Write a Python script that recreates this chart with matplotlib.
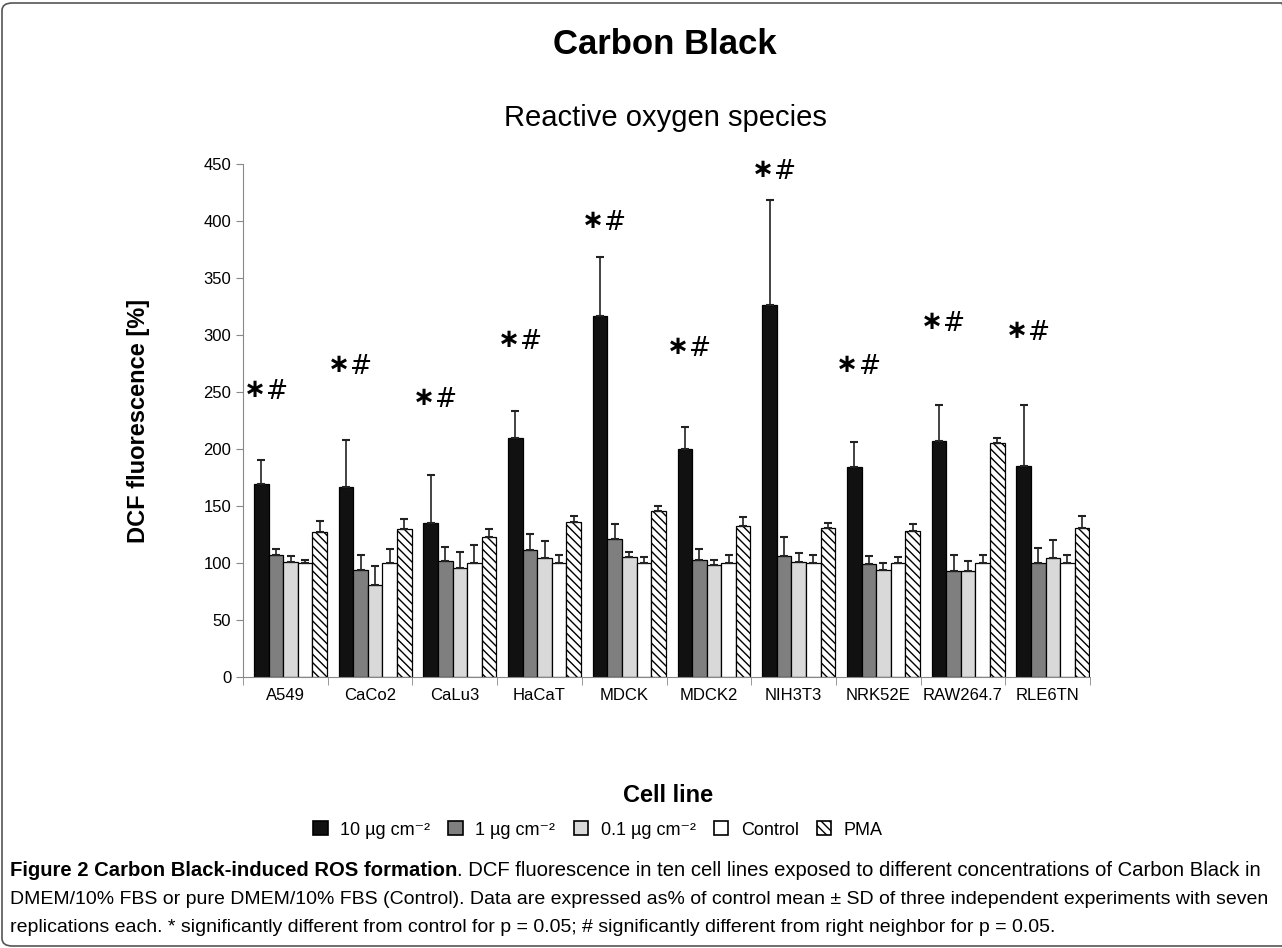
import numpy as np
import matplotlib
matplotlib.use('Agg')
import matplotlib.pyplot as plt
from matplotlib.patches import Patch, FancyBboxPatch

plt.rcParams['font.family'] = ['Liberation Sans', 'DejaVu Sans']
plt.rcParams['hatch.linewidth'] = 1.0

cell_lines = ['A549', 'CaCo2', 'CaLu3', 'HaCaT', 'MDCK', 'MDCK2', 'NIH3T3', 'NRK52E', 'RAW264.7', 'RLE6TN']
series = ['10 µg cm⁻²', '1 µg cm⁻²', '0.1 µg cm⁻²', 'Control', 'PMA']

# means
c10 = [169, 167, 135, 210, 317, 200, 326, 184, 207, 185]
c1 = [107, 94, 102, 111, 121, 103, 106, 99, 93, 100]
c01 = [101, 81, 96, 104, 105, 98, 101, 94, 93, 104]
ctrl = [100, 100, 100, 100, 100, 100, 100, 100, 100, 100]
pma = [127, 130, 123, 136, 146, 132, 131, 128, 205, 131]

# upper end of the error bars
c10_top = [190, 208, 177, 233, 368, 219, 418, 206, 239, 239]
c1_top = [112, 107, 114, 125, 134, 112, 123, 106, 107, 113]
c01_top = [106, 97, 110, 119, 110, 103, 109, 100, 102, 120]
ctrl_top = [103, 112, 116, 107, 105, 107, 107, 105, 107, 107]
pma_top = [137, 139, 130, 141, 150, 140, 135, 134, 210, 141]

# height of the "*#" marks
sig_y = [250, 272, 243, 294, 398, 288, 443, 272, 310, 302]

means = [c10, c1, c01, ctrl, pma]
tops = [c10_top, c1_top, c01_top, ctrl_top, pma_top]
colors = ['#111111', '#7f7f7f', '#d9d9d9', 'white', 'white']
hatches = [None, None, None, None, '\\\\\\\\']

fig = plt.figure(figsize=(12.82, 9.48), dpi=100)
ax = fig.add_axes([0.1896, 0.2859, 0.6607, 0.5411])

x = np.arange(len(cell_lines))
w = 0.172
for i in range(5):
    pos = x + (i - 2) * w + 0.06
    m = np.array(means[i])
    err = np.array(tops[i]) - m
    ax.bar(pos, m, w, color=colors[i], edgecolor='black', linewidth=0.9,
           hatch=hatches[i], zorder=2)
    ax.errorbar(pos, m, yerr=[np.zeros_like(err), err], fmt='none',
                ecolor='#222222', elinewidth=1.2, capsize=3, capthick=1.5, zorder=3)

for i in range(len(cell_lines)):
    xc = x[i] - 2 * w + 0.1
    ax.annotate('\u2217', (xc + 0.01, sig_y[i]), xytext=(0, 1.5), textcoords='offset points',
                ha='right', va='center', fontsize=19, fontweight='bold', family=['DejaVu Sans'])
    ax.text(xc + 0.01, sig_y[i], '#', ha='left', va='center',
            fontsize=19, family=['DejaVu Sans'])

ax.set_xlim(-0.5, 9.5)
ax.set_ylim(0, 450)
ax.set_yticks(np.arange(0, 451, 50))
ax.set_xticks(x)
ax.set_xticklabels(cell_lines, fontsize=12)
ax.set_xticks(np.arange(-0.5, 10, 1), minor=True)
ax.tick_params(axis='x', which='major', length=0, pad=8)
ax.tick_params(axis='x', which='minor', length=6, color='#888888')
ax.tick_params(axis='y', labelsize=12, length=5, color='#888888')
for s in ['top', 'right']:
    ax.spines[s].set_visible(False)
ax.spines['left'].set_color('#888888')
ax.spines['bottom'].set_color('#888888')

ax.set_ylabel('DCF fluorescence [%]', fontsize=17, fontweight='bold')
ax.yaxis.set_label_coords(-0.11, 0.5)

fig.text(665 / 1282, 1 - 45 / 948, 'Carbon Black', ha='center', va='center',
         fontsize=25, fontweight='bold')
fig.text(665 / 1282, 1 - 118 / 948, 'Reactive oxygen species', ha='center', va='center',
         fontsize=21)
fig.text(668 / 1282, 1 - 795 / 948, 'Cell line', ha='center', va='center',
         fontsize=17, fontweight='bold')

handles = [Patch(facecolor=colors[i], edgecolor='black', hatch=hatches[i], linewidth=1.2)
           for i in range(5)]
fig.legend(handles, series, loc='center', bbox_to_anchor=(598 / 1282, 1 - 830 / 948),
           ncol=5, frameon=False, fontsize=13, handlelength=0.8, handleheight=0.8,
           columnspacing=1.0, handletextpad=0.7)

# caption
cap_font = ['Liberation Sans', 'DejaVu Sans']
fig.canvas.draw()
r = fig.canvas.get_renderer()
bold = fig.text(10 / 1282, 1 - 870 / 948, 'Figure 2 Carbon Black-induced ROS formation',
                ha='left', va='center', fontsize=14.6, fontweight='bold', family=cap_font)
bb = bold.get_window_extent(renderer=r)
fig.text(bb.x1 / 1282, 1 - 870 / 948,
         '. DCF fluorescence in ten cell lines exposed to different concentrations of Carbon Black in',
         ha='left', va='center', fontsize=14.6, family=cap_font)
fig.text(10 / 1282, 1 - 899 / 948,
         'DMEM/10% FBS or pure DMEM/10% FBS (Control). Data are expressed as% of control mean ± SD of three independent experiments with seven',
         ha='left', va='center', fontsize=14.0, family=cap_font)
fig.text(10 / 1282, 1 - 928 / 948,
         'replications each. * significantly different from control for p = 0.05; # significantly different from right neighbor for p = 0.05.',
         ha='left', va='center', fontsize=14.0, family=cap_font)

border = FancyBboxPatch((2 / 1282, 2 / 948), 1290 / 1282, 943 / 948,
                        boxstyle='round,pad=0,rounding_size=0.008',
                        transform=fig.transFigure, facecolor='none',
                        edgecolor='#555555', linewidth=1.2)
fig.patches.append(border)

fig.savefig('out.png', dpi=100)
